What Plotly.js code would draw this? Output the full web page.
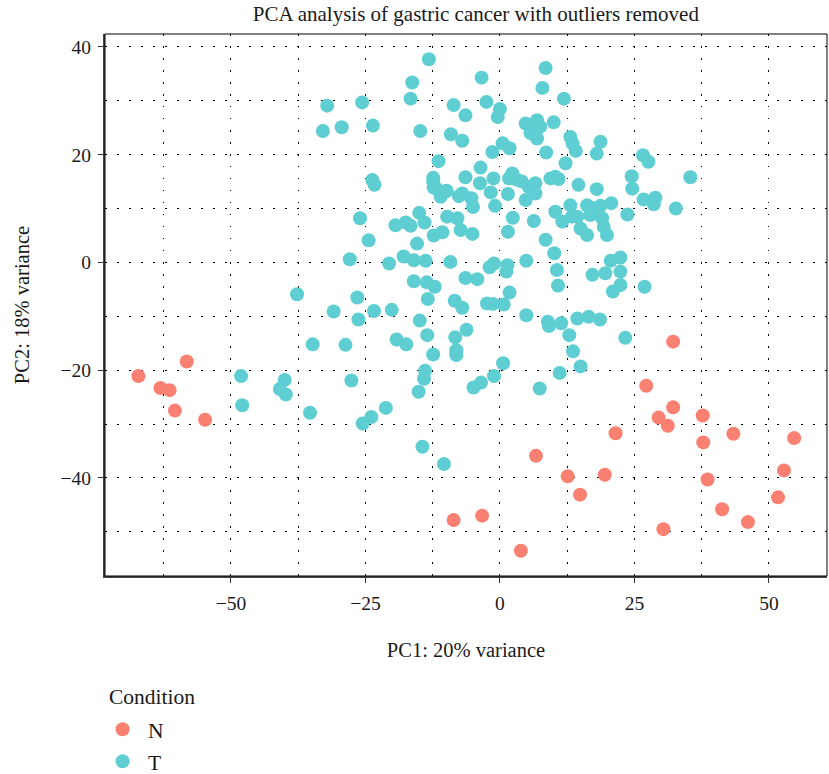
<!DOCTYPE html>
<html>
<head>
<meta charset="utf-8">
<script src="https://cdn.plot.ly/plotly-3.0.1.min.js"></script>
<style>html,body{margin:0;padding:0;background:#fff;}#chart{width:829px;height:774px;}</style>
</head>
<body>
<div id="chart"></div>
<script>
// Condition N samples (PC1, PC2)
const nPC1 = [-67.2,-63.1,-61.4,-58.2,-60.4,-54.8,-8.6,32.2,27.2,32.2,29.5,31.2,37.7,43.4,54.7,37.8,21.5,6.7,12.6,19.5,14.9,38.6,52.8,51.7,41.3,46.1,30.4,-3.3,3.9];
const nPC2 = [-21.1,-23.3,-23.7,-18.4,-27.5,-29.2,-47.8,-14.7,-22.9,-26.9,-28.8,-30.3,-28.4,-31.8,-32.6,-33.4,-31.7,-35.9,-39.7,-39.4,-43.1,-40.3,-38.6,-43.6,-45.8,-48.2,-49.5,-47.0,-53.5];

// Condition T samples (PC1, PC2)
const tPC1 = [-13.2,-16.3,-16.6,-32.1,-25.6,-32.9,-29.4,-23.6,-14.8,-8.6,-9.1,-7.0,-11.4,-12.4,-23.7,-23.3,-12.3,-10.1,-11.0,-7.6,
  -7.0,-6.4,-26.0,-24.4,-27.9,-20.6,-19.4,-17.5,-16.6,-15.0,-14.0,-9.8,-7.9,-12.3,-10.7,-15.4,-7.3,-5.1,-17.9,-16.0,
  -13.8,-9.2,-6.4,-4.2,-16.0,-13.6,-12.1,-13.4,-8.4,-7.0,-37.7,-26.5,-6.4,-3.4,-12.4,-11.8,-9.9,8.5,7.9,11.9,
  -2.5,0.0,-0.4,5.4,6.9,7.5,5.7,6.9,6.6,10.0,4.8,8.6,0.5,1.8,-1.4,13.1,13.5,14.1,18.7,18.0,
  12.2,26.6,27.6,-3.6,35.4,24.5,24.6,26.7,28.9,28.6,32.7,23.7,14.6,18.0,20.7,18.7,17.2,16.2,13.1,10.3,
  11.6,14.4,15.0,16.2,19.0,19.3,19.9,6.3,2.4,1.5,8.5,10.1,10.6,10.8,4.9,17.2,19.6,20.6,22.4,22.4,
  22.4,21.0,26.9,-1.9,-1.1,1.4,1.2,1.8,-2.4,-1.3,0.7,-3.7,-1.2,-1.7,-0.9,-5.3,-5.0,1.7,2.3,3.1,
  4.1,5.4,4.8,6.6,6.6,9.4,10.3,10.9,1.5,13.4,16.8,-30.9,-26.3,-23.4,-20.1,-14.9,-34.8,-28.7,-19.2,-17.4,
  -13.5,-12.4,-8.3,-8.1,-8.1,-48.1,-47.9,-40.0,-40.9,-39.8,-35.3,-27.6,-25.5,-23.9,-21.2,-13.9,-14.1,-15.1,-14.4,-10.4,
  4.9,8.9,9.1,11.4,12.9,14.4,16.5,18.6,23.3,13.6,15.0,11.1,7.4,0.6,-1.1,-3.5,-4.9,-6.2];
const tPC2 = [37.7,33.4,30.4,29.1,29.7,24.4,25.1,25.4,24.4,29.2,23.8,22.6,18.8,15.7,15.3,14.4,13.9,13.2,12.2,12.3,
  12.8,15.8,8.2,4.1,0.6,-0.2,6.9,7.4,6.8,9.2,7.4,8.5,8.2,5.0,5.6,3.5,6.0,5.3,1.1,0.4,
  0.3,0.1,-2.9,-3.1,-3.5,-3.7,-4.5,-6.8,-7.1,-8.4,-5.9,-6.5,27.3,34.3,15.0,13.7,13.3,36.1,32.4,30.4,
  29.8,28.5,27.0,25.5,26.4,25.2,24.0,23.0,24.6,26.0,25.8,20.4,22.1,21.2,20.5,23.3,22.1,20.7,22.4,20.2,
  18.4,19.9,18.7,17.6,15.8,16.0,13.7,11.7,12.0,10.8,10.0,8.9,14.4,13.6,11.0,10.5,10.1,10.6,10.6,9.4,
  7.6,8.5,6.3,5.1,8.2,6.6,5.1,7.7,8.3,5.7,4.2,1.7,-1.4,-4.3,0.3,-2.3,-2.0,0.3,0.9,-1.7,
  -4.2,-5.4,-4.5,-0.9,-0.2,-0.5,-1.7,-5.6,-7.6,-7.7,-7.8,14.7,15.6,13.0,10.5,11.9,10.3,15.6,16.5,15.4,
  15.0,14.0,11.6,14.7,12.8,15.6,15.9,15.5,12.7,8.5,8.8,-9.1,-10.6,-9.0,-8.8,-10.8,-15.2,-15.3,-14.3,-15.2,
  -13.5,-17.1,-13.9,-16.3,-17.2,-21.1,-26.5,-21.8,-23.5,-24.5,-27.9,-21.9,-29.9,-28.7,-27.0,-20.1,-21.6,-24.0,-34.2,-37.4,
  -9.8,-11.0,-11.8,-11.3,-13.5,-10.4,-10.1,-10.6,-14.0,-16.5,-19.3,-20.5,-23.4,-18.7,-21.1,-22.3,-23.2,-12.5];

const xTicks = [-50,-25,0,25,50];
const yTicks = [-40,-20,0,20,40];
const conditionNames = ['N','T'];
const conditionColors = ['#FA8072','#5ECED2'];

const FONT = 'Liberation Serif, Times New Roman, serif';
const INK = '#1a1a1a';
const DOT = '1.5px,10.5px';

const traces = conditionNames.map((nm, i) => ({
  x: i === 0 ? nPC1 : tPC1,
  y: i === 0 ? nPC2 : tPC2,
  name: '\u00a0' + nm, legendgroup: nm, type: 'scatter', mode: 'markers',
  marker: {size: 14, color: conditionColors[i], line: {width: 0}}
}));

const layout = {
  width:829, height:774,
  margin:{l:104.6, r:2.3, t:34, b:198, pad:0, autoexpand:false},
  paper_bgcolor:'#fff', plot_bgcolor:'#fff',
  font:{family:FONT, size:19.5, color:INK},
  title:{text:'PCA analysis of gastric cancer with outliers removed', font:{family:FONT, size:21, color:INK},
         x:0.574, xref:'container', xanchor:'center', y:1-14/774, yref:'container', yanchor:'middle'},
  xaxis:{range:[-73.4,60.8], tickmode:'array', tickvals:xTicks, ticks:'outside', ticklen:5, tickcolor:'#333', tickwidth:1,
         ticklabelstandoff:4, automargin:false,
         showline:true, linecolor:'#444', linewidth:2, zeroline:false,
         showgrid:true, gridcolor:'#000', gridwidth:1, griddash:DOT,
         minor:{tick0:0, dtick:12.5, showgrid:true, gridcolor:'#000', gridwidth:1, griddash:DOT, ticks:''},
         tickfont:{family:FONT, size:19.5, color:INK},
         title:{text:'PC1: 20% variance', font:{family:FONT, size:20.5, color:INK}, standoff:29}},
  yaxis:{range:[-58.2,42.4], tickmode:'array', tickvals:yTicks, ticks:'outside', ticklen:5, tickcolor:'#333', tickwidth:1,
         ticklabelstandoff:3, automargin:false,
         showline:true, linecolor:'#444', linewidth:2, zeroline:false,
         showgrid:true, gridcolor:'#000', gridwidth:1, griddash:DOT,
         minor:{tick0:0, dtick:10, showgrid:true, gridcolor:'#000', gridwidth:1, griddash:DOT, ticks:''},
         tickfont:{family:FONT, size:19.5, color:INK},
         title:{text:'PC2: 18% variance', font:{family:FONT, size:20.5, color:INK}, standoff:25}},
  shapes:[{type:'rect', xref:'paper', yref:'paper', x0:0, x1:1, y0:0, y1:1, line:{color:'#000', width:1}, fillcolor:'rgba(0,0,0,0)'}],
  annotations:[{text:'Condition', xref:'paper', yref:'paper', x:0.003, xanchor:'left', y:-(697-576)/542, yanchor:'middle',
                showarrow:false, font:{family:FONT, size:21.5, color:INK}}],
  showlegend:true,
  legend:{x:-0.0033, xanchor:'left', y:-0.245, yanchor:'top', orientation:'v',
          font:{family:FONT, size:21.5, color:INK}, traceorder:'grouped', tracegroupgap:1,
          bgcolor:'rgba(0,0,0,0)', borderwidth:0}
};

Plotly.newPlot('chart', traces, layout, {displayModeBar:false, staticPlot:true});
</script>
</body>
</html>
